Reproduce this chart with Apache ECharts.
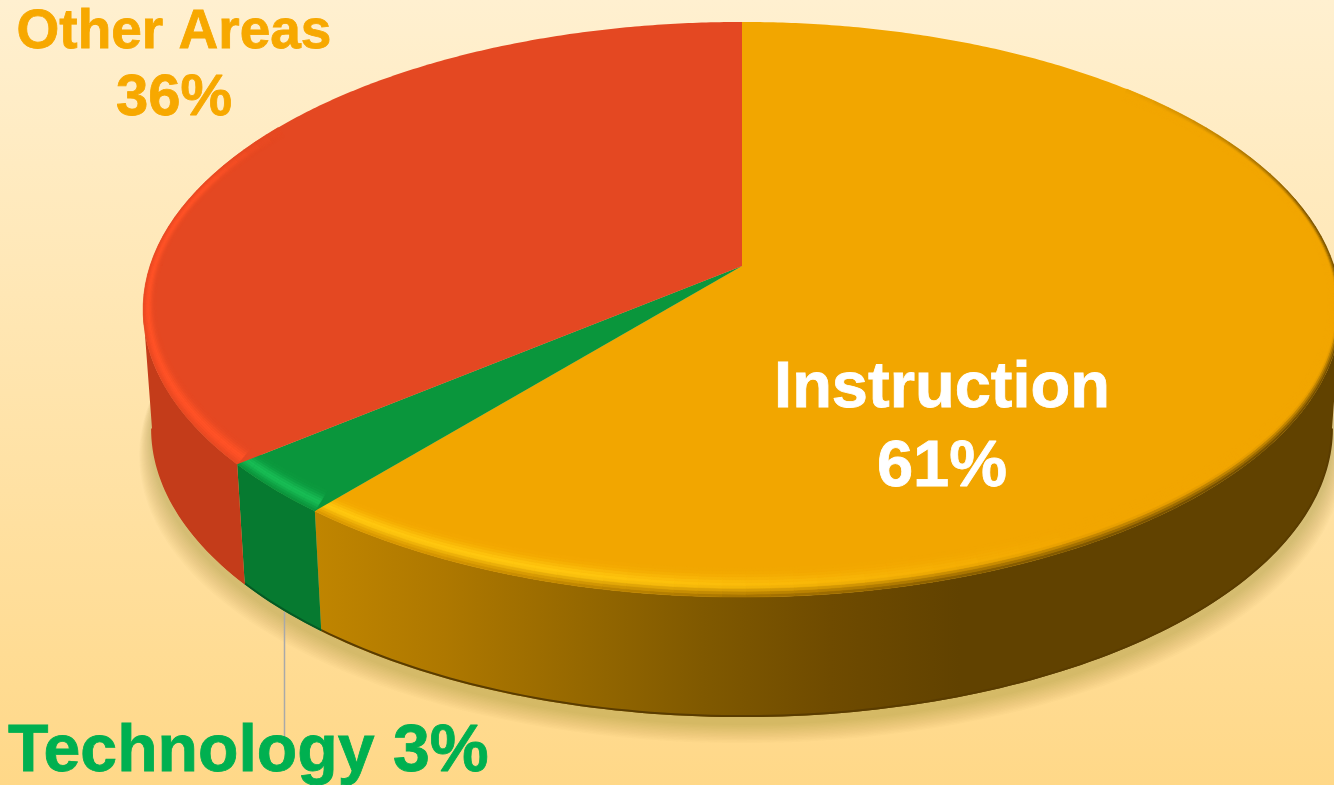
<!DOCTYPE html>
<html>
<head>
<meta charset="utf-8">
<style>
    html, body { margin: 0; padding: 0; }
    #main { width: 1334px; height: 785px; }
</style>
<script src="https://cdn.jsdelivr.net/npm/echarts@6/dist/echarts.min.js"></script>
</head>
<body>
<div id="main"></div>
<script>
    // chart data
    const categories = ['Instruction', 'Technology', 'Other Areas'];
    const shares = [61, 3, 36];

    // colours per slice
    const topColors = ['#f2a600', '#0a963c', '#e44822'];
    const rimColors = ['#ffc70f', '#18bc54', '#ff5226'];
    const labelColors = ['#ffffff', '#00b050', '#f7a800'];

    // perspective of the disc
    const cx = 742, cy = 266, radiusX = 592, radiusY = 281, persp = 0.1513;
    const depth = 120, bottomShrink = 0.985;
    // angle where the disc outline is widest, the wall stops there
    const sideDeg = Math.acos(-persp) * 180 / Math.PI;

    function project(u, t) {
        const s = 1 / (1 - persp * t);
        return [cx + radiusX * u * s, cy + radiusY * t * s];
    }
    function edge(deg) {
        const a = deg * Math.PI / 180;
        return project(Math.sin(a), -Math.cos(a));
    }
    function bevel(deg, f) {
        const a = deg * Math.PI / 180;
        return project(Math.sin(a) * (1 - 0.02 * f), -Math.cos(a) * (1 - 0.075 * f));
    }
    function lower(p) {
        return [cx + (p[0] - cx) * bottomShrink, p[1] + depth];
    }
    function arc(from, to, step) {
        const pts = [];
        const n = Math.max(1, Math.ceil((to - from) / step));
        for (let i = 0; i <= n; i++) pts.push(edge(from + (to - from) * i / n));
        return pts;
    }
    function sliceRange(i) {
        const total = shares.reduce((a, b) => a + b, 0);
        let sum = 0;
        for (let k = 0; k < i; k++) sum += shares[k];
        return [sum / total * 360, (sum + shares[i]) / total * 360];
    }

    // colour helpers
    function rgb(hex) {
        return [1, 3, 5].map(p => parseInt(hex.substr(p, 2), 16));
    }
    function mixArr(c1, c2, f) {
        return c1.map((v, i) => v + (c2[i] - v) * f);
    }
    function css(c) {
        return 'rgb(' + c.map(Math.round).join(',') + ')';
    }
    const wallX0 = 316, wallX1 = 960;
    const orangeStops = [[0, '#c08500'], [0.2, '#ae7800'], [0.45, '#916500'], [0.6, '#805900'], [0.8, '#6f4b00'], [1, '#614200']];
    const wallColors = ['', '#067a30', '#c43c1a'];
    const wallEdge = ['#5a3c00', '#045a24', '#c43c1a'];

    function orangeAt(x) {
        const f = Math.min(1, Math.max(0, (x - wallX0) / (wallX1 - wallX0)));
        for (let i = 1; i < orangeStops.length; i++) {
            if (f <= orangeStops[i][0]) {
                const p = orangeStops[i - 1];
                const q = orangeStops[i];
                return mixArr(rgb(p[1]), rgb(q[1]), (f - p[0]) / (q[0] - p[0]));
            }
        }
        return rgb('#614200');
    }
    function clamp01(v) {
        return Math.min(1, Math.max(0, v));
    }

    // soft ground shadow, stacked see-through copies of the disc bottom
    function renderShadow(params) {
        if (params.dataIndex !== 0) return { type: 'group', children: [] };
        const base = arc(0, 360, 2).map(lower);
        const count = 14;
        const children = [];
        for (let k = 0; k < count; k++) {
            const e = k / (count - 1);
            const sx = 1.002 + 0.02 * e;
            const dy = 8 + 18 * e;
            children.push({
                type: 'polygon',
                shape: { points: base.map(p => [cx + (p[0] - cx) * sx, p[1] + dy]) },
                style: { fill: 'rgba(110,80,20,0.019)' }
            });
        }
        return { type: 'group', children: children };
    }

    function renderWall(params) {
        const i = params.dataIndex;
        const r = sliceRange(i);
        const from = Math.max(r[0], sideDeg), to = Math.min(r[1], 360 - sideDeg);
        const top = arc(from, to, 1);
        const bottom = top.map(lower);
        const fill = i === 0
            ? new echarts.graphic.LinearGradient(wallX0, 0, wallX1, 0,
                orangeStops.map(s => ({ offset: s[0], color: s[1] })), true)
            : wallColors[i];
        return {
            type: 'group',
            children: [
                { type: 'polygon', shape: { points: top.concat(bottom.slice().reverse()) }, style: { fill: fill } },
                { type: 'polyline', shape: { points: bottom.map(p => [p[0], p[1] - 1]) }, style: { stroke: wallEdge[i], lineWidth: 2, fill: null } }
            ]
        };
    }

    function renderTop(params) {
        const i = params.dataIndex;
        const r = sliceRange(i);
        const children = [{
            type: 'polygon',
            shape: { points: [[cx, cy]].concat(arc(r[0], r[1], 0.5)) },
            style: { fill: topColors[i] }
        }];
        // soft bevel along the front of the rim, drawn as thin layers
        const layers = 10, step = 2;
        const base = rgb(topColors[i]), shine = rgb(rimColors[i]);
        const n = Math.ceil((r[1] - r[0]) / step);
        for (let s = 0; s < n; s++) {
            const a0 = r[0] + (r[1] - r[0]) * s / n;
            const a1 = r[0] + (r[1] - r[0]) * (s + 1) / n;
            const am = (a0 + a1) / 2;
            let shineAmt, darkAmt;
            if (i === 0) {
                shineAmt = clamp01((am - 150) / 45);
                darkAmt = clamp01((am - 45) / 35) * (0.5 + 0.5 * clamp01((215 - am) / 80));
            } else if (i === 1) {
                shineAmt = 1;
                darkAmt = 0.25;
            } else {
                shineAmt = clamp01((302 - am) / 14);
                darkAmt = 0;
            }
            if (shineAmt === 0 && darkAmt === 0) continue;
            const x = edge(am)[0];
            const wall = i === 0 ? orangeAt(x) : rgb(wallColors[i]);
            for (let l = 0; l < layers; l++) {
                const f0 = l / layers, f1 = (l + 1) / layers, fm = (f0 + f1) / 2;
                const glow = shineAmt * Math.exp(-Math.pow((fm - 0.42) / 0.3, 2));
                const dark = darkAmt * clamp01(1 - fm / 0.38);
                const fill = css(mixArr(mixArr(base, shine, glow), wall, dark));
                children.push({
                    type: 'polygon',
                    shape: { points: [bevel(a0, f0), bevel(a1, f0), bevel(a1, f1), bevel(a0, f1)] },
                    style: { fill: fill, stroke: fill, lineWidth: 0.6 }
                });
            }
        }
        return { type: 'group', children: children };
    }

    // label placement, one baseline and font size per text line
    const labelPlaces = [
        { x: 942, align: 'center', sizes: [65, 65], baselines: [408, 487] },
        { x: 8, align: 'left', sizes: [66.2], baselines: [772] },
        { x: 174, align: 'center', sizes: [55, 58], baselines: [49, 116] }
    ];

    function renderLabel(params) {
        const i = params.dataIndex;
        const place = labelPlaces[i];
        const pct = shares[i] + '%';
        const lines = place.sizes.length > 1 ? [categories[i], pct] : [categories[i] + ' ' + pct];
        const children = lines.map((text, k) => ({
            type: 'text',
            style: {
                text: text,
                x: place.x,
                y: place.baselines[k] + place.sizes[k] * 0.21,
                textAlign: place.align,
                verticalAlign: 'bottom',
                font: 'bold ' + place.sizes[k] + 'px "Liberation Sans", Arial, sans-serif',
                fill: labelColors[i],
                stroke: labelColors[i],
                lineWidth: 0.8
            }
        }));
        if (i === 1) {
            // leader line of the small slice
            children.unshift({
                type: 'line',
                shape: { x1: 284.5, y1: 612, x2: 284.5, y2: 737 },
                style: { stroke: '#a9a9a9', lineWidth: 1.5 }
            });
        }
        return { type: 'group', children: children };
    }

    const seriesData = shares.map((v, i) => ({ name: categories[i], value: v }));
    function layer(fn) {
        return { type: 'custom', coordinateSystem: 'none', silent: true, animation: false, renderItem: fn, data: seriesData };
    }

    const myChart = echarts.init(document.getElementById('main'), null, { renderer: 'canvas' });
    myChart.setOption({
        animation: false,
        backgroundColor: new echarts.graphic.LinearGradient(0, 0, 0, 1, [
            { offset: 0, color: '#fff0d0' },
            { offset: 1, color: '#ffd888' }
        ]),
        tooltip: { show: false },
        series: [layer(renderShadow), layer(renderWall), layer(renderTop), layer(renderLabel)]
    });
</script>
</body>
</html>
